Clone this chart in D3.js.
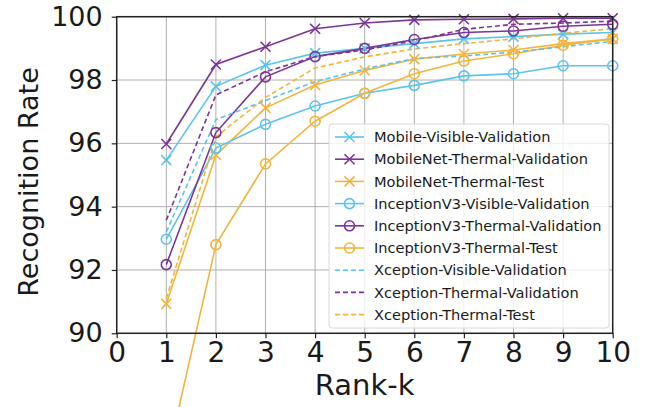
<!DOCTYPE html>
<html><head><meta charset="utf-8">
<script src="https://cdn.jsdelivr.net/npm/d3@7"></script>
<style>body{margin:0;background:#fff}svg{display:block}</style>
</head><body>
<svg id="c" width="648" height="407"></svg>
<script>
const ranks = [1,2,3,4,5,6,7,8,9,10];
const mobileVisVal   = [95.47, 97.80, 98.47, 98.85, 99.00, 99.15, 99.30, 99.37, 99.45, 99.50];
const mobileThermVal = [95.98, 98.49, 99.05, 99.62, 99.80, 99.90, 99.92, 99.93, 99.95, 99.95];
const mobileThermTest= [90.93, 95.63, 97.12, 97.84, 98.30, 98.66, 98.82, 98.95, 99.15, 99.30];
const incVisVal      = [92.97, 95.85, 96.60, 97.18, 97.58, 97.83, 98.13, 98.20, 98.45, 98.45];
const incThermVal    = [92.17, 96.34, 98.10, 98.74, 99.00, 99.28, 99.50, 99.55, 99.70, 99.76];
const incThermTest   = [85.90, 92.80, 95.35, 96.70, 97.58, 98.20, 98.60, 98.83, 99.10, 99.30];
const xcVisVal       = [93.20, 96.75, 97.35, 97.95, 98.35, 98.68, 98.76, 98.88, 99.05, 99.22];
const xcThermVal     = [93.57, 97.53, 98.26, 98.74, 98.95, 99.24, 99.60, 99.76, 99.80, 99.86];
const xcThermTest    = [91.10, 96.20, 97.45, 98.38, 98.73, 98.98, 99.15, 99.30, 99.48, 99.62];
const seriesNames = ["Mobile-Visible-Validation","MobileNet-Thermal-Validation","MobileNet-Thermal-Test",
  "InceptionV3-Visible-Validation","InceptionV3-Thermal-Validation","InceptionV3-Thermal-Test",
  "Xception-Visible-Validation","Xception-Thermal-Validation","Xception-Thermal-Test"];
const xTicks = [0,1,2,3,4,5,6,7,8,9,10];
const yTicks = [90,92,94,96,98,100];

const BLUE="#5cc3ea", PURPLE="#7b3595", YELLOW="#f2b53c";
const series = [
  {name:seriesNames[0], vals:mobileVisVal,   color:BLUE,   marker:"x", dash:null},
  {name:seriesNames[1], vals:mobileThermVal, color:PURPLE, marker:"x", dash:null},
  {name:seriesNames[2], vals:mobileThermTest,color:YELLOW, marker:"x", dash:null},
  {name:seriesNames[3], vals:incVisVal,      color:BLUE,   marker:"o", dash:null},
  {name:seriesNames[4], vals:incThermVal,    color:PURPLE, marker:"o", dash:null},
  {name:seriesNames[5], vals:incThermTest,   color:YELLOW, marker:"o", dash:null},
  {name:seriesNames[6], vals:xcVisVal,       color:BLUE,   marker:null, dash:"5,3"},
  {name:seriesNames[7], vals:xcThermVal,     color:PURPLE, marker:null, dash:"5,3"},
  {name:seriesNames[8], vals:xcThermTest,    color:YELLOW, marker:null, dash:"5,3"}
];

const svg = d3.select("#c");
const L=116.7, R=612.7, T=16.7, B=333.3;
const x = d3.scaleLinear().domain([0,10]).range([L,R]);
const y = d3.scaleLinear().domain([90,100]).range([B,T]);

// grid
const g = svg.append("g");
g.selectAll(".gx").data(xTicks).enter().append("line")
  .attr("x1",d=>x(d)).attr("x2",d=>x(d)).attr("y1",T).attr("y2",B)
  .attr("stroke","#b0b0b0").attr("stroke-width",1);
g.selectAll(".gy").data(yTicks).enter().append("line")
  .attr("x1",L).attr("x2",R).attr("y1",d=>y(d)).attr("y2",d=>y(d))
  .attr("stroke","#b0b0b0").attr("stroke-width",1);

// axes
const font = "DejaVu Sans, sans-serif";
const xAxis = svg.append("g").attr("transform",`translate(0,${B})`)
  .call(d3.axisBottom(x).tickValues(xTicks).tickFormat(d3.format("d")).tickSizeOuter(0).tickSize(5).tickPadding(4));
xAxis.selectAll("text").attr("font-family",font).attr("font-size",28).attr("fill","#1a1a1a");
const yAxis = svg.append("g").attr("transform",`translate(${L},0)`)
  .call(d3.axisLeft(y).tickValues(yTicks).tickFormat(d3.format("d")).tickSizeOuter(0).tickSize(5).tickPadding(9));
yAxis.selectAll("text").attr("font-family",font).attr("font-size",27).attr("fill","#1a1a1a");
svg.selectAll(".domain").remove();
svg.selectAll(".tick line").attr("stroke","#222").attr("stroke-width",1.2);

// lines
const line = d3.line().x((d,i)=>x(ranks[i])).y(d=>y(d));
const plot = svg.append("g");
series.forEach(s=>{
  plot.append("path").attr("d",line(s.vals)).attr("fill","none")
    .attr("stroke",s.color).attr("stroke-width",1.6)
    .attr("stroke-dasharray",s.dash);
});
function drawMarker(sel, type, cx, cy, color){
  if(type==="x"){
    const r=5;
    sel.append("path").attr("d",`M${cx-r},${cy-r}L${cx+r},${cy+r}M${cx-r},${cy+r}L${cx+r},${cy-r}`)
      .attr("stroke",color).attr("stroke-width",1.6).attr("fill","none");
  } else if(type==="o"){
    sel.append("circle").attr("cx",cx).attr("cy",cy).attr("r",5)
      .attr("stroke",color).attr("stroke-width",1.6).attr("fill","none");
  }
}
series.forEach(s=>{
  if(!s.marker) return;
  s.vals.forEach((v,i)=>drawMarker(plot,s.marker,x(ranks[i]),y(v),s.color));
});

// frame
svg.append("rect").attr("x",L).attr("y",T).attr("width",R-L).attr("height",B-T)
  .attr("fill","none").attr("stroke","#222").attr("stroke-width",1.5);

// labels
svg.append("text").attr("x",(L+R)/2).attr("y",395).attr("text-anchor","middle")
  .attr("font-family",font).attr("font-size",29).attr("fill","#1a1a1a").text("Rank-k");
svg.append("text").attr("transform",`translate(38,182) rotate(-90)`).attr("text-anchor","middle")
  .attr("font-family",font).attr("font-size",27).attr("fill","#1a1a1a").text("Recognition Rate");

// legend
const lg = svg.append("g").attr("transform","translate(329,124)");
lg.append("rect").attr("x",0).attr("y",0).attr("width",280).attr("height",204).attr("rx",3)
  .attr("fill","#fff").attr("fill-opacity",0.8).attr("stroke","#d8d8d8").attr("stroke-width",1);
series.forEach((s,i)=>{
  const cy = 13 + i*22.2;
  const row = lg.append("g");
  row.append("line").attr("x1",6).attr("x2",35).attr("y1",cy).attr("y2",cy)
    .attr("stroke",s.color).attr("stroke-width",1.6).attr("stroke-dasharray",s.dash);
  if(s.marker) drawMarker(row, s.marker, 20.5, cy, s.color);
  row.append("text").attr("x",45).attr("y",cy).attr("dy","0.35em")
    .attr("font-family",font).attr("font-size",14.6).attr("fill","#1a1a1a").text(s.name);
});
</script>
</body></html>
